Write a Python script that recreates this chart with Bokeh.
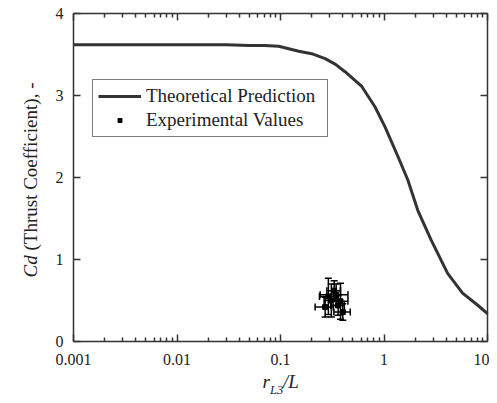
import math
from bokeh.plotting import figure
from bokeh.models import (Range1d, LogAxis, LinearAxis, FixedTicker, Whisker, TeeHead,
                          ColumnDataSource, Legend, LegendItem, Label)
from bokeh.embed import file_html
from bokeh.resources import INLINE

# ---- data ----
curve_x = [0.001, 0.003, 0.01, 0.03, 0.05, 0.07, 0.096, 0.15, 0.2, 0.27, 0.34, 0.42, 0.61,
           0.82, 1.02, 1.37, 1.70, 2.12, 2.85, 4.12, 5.74, 8.0, 10.0]
curve_y = [3.62, 3.62, 3.62, 3.62, 3.61, 3.61, 3.60, 3.54, 3.51, 3.45, 3.38, 3.29, 3.11,
           2.86, 2.62, 2.25, 1.97, 1.60, 1.24, 0.83, 0.59, 0.445, 0.34]

exp_x = [0.27, 0.29, 0.31, 0.33, 0.345, 0.36, 0.38, 0.40]
exp_y = [0.42, 0.55, 0.50, 0.62, 0.57, 0.44, 0.49, 0.36]
exp_yerr = [0.12, 0.22, 0.20, 0.12, 0.13, 0.12, 0.22, 0.10]
exp_xerr_rel = [0.20, 0.18, 0.15, 0.15, 0.30, 0.15, 0.18, 0.18]

x_ticks = [0.001, 0.01, 0.1, 1, 10]
x_tick_labels = ["0.001", "0.01", "0.1", "1", "10"]
x_minor = [m * t for t in [0.001, 0.01, 0.1, 1] for m in range(2, 10)]
y_ticks = [0, 1, 2, 3, 4]
X_LIM = (0.001, 10)
Y_LIM = (0, 4)

FONT = "Liberation Serif"
INK = "#333333"
TXT = "#222222"

# ---- layout (pixels) ----
W, H = 489, 395
BOX_L, BOX_R, BOX_T, BOX_B = 73, 487, 13, 341   # where the axes box sits on the canvas

dec_px = (BOX_R - BOX_L) / (math.log10(X_LIM[1]) - math.log10(X_LIM[0]))
x_start = 10 ** (math.log10(X_LIM[0]) - BOX_L / dec_px)
x_end = 10 ** (math.log10(X_LIM[1]) + (W - BOX_R) / dec_px)
unit_px = (BOX_B - BOX_T) / (Y_LIM[1] - Y_LIM[0])
y_start = Y_LIM[0] - (H - BOX_B) / unit_px
y_end = Y_LIM[1] + BOX_T / unit_px

p = figure(width=W, height=H, x_axis_type="log",
           x_range=Range1d(x_start, x_end), y_range=Range1d(y_start, y_end),
           x_axis_location=None, y_axis_location=None,
           output_backend="svg", toolbar_location=None, min_border=0)
p.grid.visible = False
p.outline_line_color = None
p.background_fill_color = "white"
p.border_fill_color = "white"


def style(ax, labels=True):
    ax.axis_line_color = INK
    ax.axis_line_width = 1.5
    ax.major_tick_in = 7
    ax.major_tick_out = 0
    ax.major_tick_line_color = INK
    ax.major_tick_line_width = 1.5
    ax.minor_tick_in = 4
    ax.minor_tick_out = 0
    ax.minor_tick_line_color = INK
    ax.minor_tick_line_width = 1.5
    if labels:
        ax.major_label_text_font = FONT
        ax.major_label_text_font_size = "16px"
        ax.major_label_text_color = TXT
    else:
        ax.major_label_text_font_size = "1px"
        ax.major_label_text_alpha = 0
        ax.major_label_standoff = 0


bottom = LogAxis(ticker=FixedTicker(ticks=x_ticks, minor_ticks=x_minor),
                 fixed_location=Y_LIM[0], bounds=X_LIM)
style(bottom)
bottom.major_label_standoff = 12
bottom.major_label_overrides = {t: l for t, l in zip(x_ticks, x_tick_labels)}
p.add_layout(bottom, "below")

top = LogAxis(ticker=FixedTicker(ticks=x_ticks, minor_ticks=x_minor),
              fixed_location=Y_LIM[1], bounds=X_LIM)
style(top, labels=False)
p.add_layout(top, "above")

left = LinearAxis(ticker=FixedTicker(ticks=y_ticks, minor_ticks=[]),
                  fixed_location=X_LIM[0], bounds=Y_LIM)
style(left)
left.major_label_standoff = 10
p.add_layout(left, "left")

right = LinearAxis(ticker=FixedTicker(ticks=y_ticks, minor_ticks=[]),
                   fixed_location=X_LIM[1], bounds=Y_LIM)
style(right, labels=False)
p.add_layout(right, "right")

# theoretical curve
line = p.line(curve_x, curve_y, line_width=3, line_color=INK)

# experimental values with error bars
src = ColumnDataSource(dict(
    x=exp_x, y=exp_y,
    ylo=[y - e for y, e in zip(exp_y, exp_yerr)],
    yhi=[y + e for y, e in zip(exp_y, exp_yerr)],
    xlo=[x * (1 - e) for x, e in zip(exp_x, exp_xerr_rel)],
    xhi=[x * (1 + e) for x, e in zip(exp_x, exp_xerr_rel)],
))


def tee():
    return TeeHead(size=7, line_color="black", line_width=1.5)


p.add_layout(Whisker(source=src, base="x", lower="ylo", upper="yhi", dimension="height",
                     line_color="black", line_width=1.5, upper_head=tee(), lower_head=tee()))
p.add_layout(Whisker(source=src, base="y", lower="xlo", upper="xhi", dimension="width",
                     line_color="black", line_width=1.5, upper_head=tee(), lower_head=tee()))
pts = p.scatter("x", "y", source=src, marker="square", size=5, color="black")

legend = Legend(items=[LegendItem(label="Theoretical Prediction", renderers=[line]),
                       LegendItem(label="Experimental Values", renderers=[pts])],
                location=(92, H - 137), border_line_color="black", border_line_width=1,
                background_fill_color="white", background_fill_alpha=1.0,
                padding=5, spacing=2, margin=0,
                label_text_font=FONT, label_text_font_size="19px", label_text_color=TXT,
                label_height=20, glyph_height=10, glyph_width=43, label_standoff=5,
                label_width=176)
p.add_layout(legend)

# y-axis title: "Cd (Thrust Coefficient), -"
p.add_layout(Label(x=30, y=H - 277, x_units="screen", y_units="screen", text="Cd",
                   angle=math.pi / 2, text_font=FONT, text_font_style="italic",
                   text_font_size="19px", text_color=TXT, text_baseline="alphabetic",
                   text_align="left"))
p.add_layout(Label(x=30, y=H - 250, x_units="screen", y_units="screen",
                   text="(Thrust Coefficient), -",
                   angle=math.pi / 2, text_font=FONT, text_font_size="19px", text_color=TXT,
                   text_baseline="alphabetic", text_align="left"))

# x-axis title: r_L3 / L
p.add_layout(Label(x=262, y=H - 381, x_units="screen", y_units="screen", text="r",
                   text_font=FONT, text_font_style="italic", text_font_size="19px",
                   text_color=TXT, text_baseline="alphabetic", text_align="left"))
p.add_layout(Label(x=269.5, y=H - 389, x_units="screen", y_units="screen", text="L3",
                   text_font=FONT, text_font_style="italic", text_font_size="12.5px",
                   text_color=TXT, text_baseline="alphabetic", text_align="left"))
p.add_layout(Label(x=282.5, y=H - 381, x_units="screen", y_units="screen", text="/L",
                   text_font=FONT, text_font_style="italic", text_font_size="19px",
                   text_color=TXT, text_baseline="alphabetic", text_align="left"))

open("out.html", "w").write(file_html(p, INLINE))
